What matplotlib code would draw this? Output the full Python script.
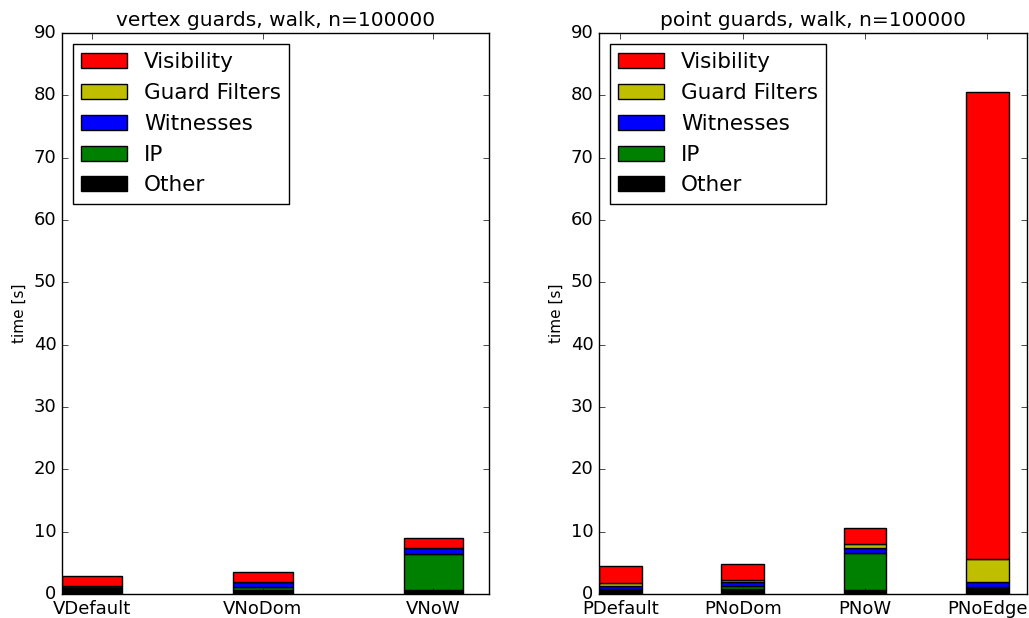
import matplotlib
matplotlib.use("Agg")
import matplotlib.pyplot as plt
import numpy as np

plt.style.use("classic")

# Left: vertex guards
v_labels = ["VDefault", "VNoDom", "VNoW"]
v_other = [0.9, 0.65, 0.7]
v_ip = [0.05, 0.5, 5.7]
v_witness = [0.35, 0.8, 1.0]
v_guard = [0.0, 0.0, 0.0]
v_vis = [1.6, 1.6, 1.55]

# Right: point guards
p_labels = ["PDefault", "PNoDom", "PNoW", "PNoEdge"]
p_other = [0.8, 0.85, 0.7, 1.1]
p_ip = [0.05, 0.4, 5.9, 0.05]
p_witness = [0.5, 0.7, 0.8, 0.7]
p_guard = [0.4, 0.37, 0.6, 3.8]
p_vis = [2.8, 2.5, 2.6, 74.95]

titles = ["vertex guards, walk, n=100000", "point guards, walk, n=100000"]
series_names = ["Other", "IP", "Witnesses", "Guard Filters", "Visibility"]
colors = ["k", "g", "b", "y", "r"]

fig = plt.figure(figsize=(10.29, 6.18), dpi=100, facecolor="white")
ax1 = fig.add_axes([62/1029, 1-594/618, (489-62)/1029, (594-33)/618])
ax2 = fig.add_axes([599/1029, 1-594/618, (1027-599)/1029, (594-33)/618])

width = 0.35
for ax, labels, data, title in [
    (ax1, v_labels, [v_other, v_ip, v_witness, v_guard, v_vis], titles[0]),
    (ax2, p_labels, [p_other, p_ip, p_witness, p_guard, p_vis], titles[1]),
]:
    ind = np.arange(len(labels))
    bottom = np.zeros(len(labels))
    handles = []
    for vals, c, name in zip(data, colors, series_names):
        h = ax.bar(ind, vals, width, bottom=bottom, color=c, align="edge",
                   edgecolor="k", linewidth=1, label=name)
        handles.append(h)
        bottom = bottom + np.array(vals)
    ax.set_xlim(0, len(labels) - 0.5)
    ax.set_ylim(0, 90)
    ax.set_yticks(np.arange(0, 91, 10))
    ax.set_xticks(ind + width / 2)
    ax.set_xticklabels(labels, fontsize=13)
    ax.tick_params(axis="y", labelsize=13)
    ax.set_ylabel("time [s]", fontsize=11)
    ax.set_title(title, fontsize=14.5)
    ax.legend(handles[::-1], series_names[::-1], loc="upper left", fontsize=15.5,
              handlelength=2.1)

fig.savefig("out.png", dpi=100, facecolor="white")
